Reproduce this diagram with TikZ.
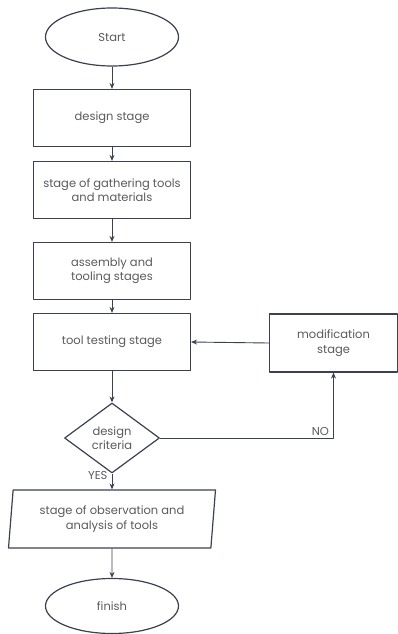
\documentclass[tikz,border=0pt]{standalone}
\usepackage{fontspec}
\setmainfont{Poppins}
\usetikzlibrary{shapes.geometric}
\usetikzlibrary{arrows.meta}

\definecolor{linecol}{HTML}{3B4052}
\definecolor{textcol}{HTML}{5A5A5E}

\begin{document}
\begin{tikzpicture}[
  x=1pt, y=-1pt,
  line join=round,
  >={Stealth[length=6pt,width=5pt]},
  flow/.style={->,draw=linecol,line width=0.9pt},
  every node/.style={draw=linecol, line width=1.2pt, text=textcol,
    align=center, font=\fontsize{11.5}{14.5}\selectfont},
  stagebox/.style={rectangle, minimum width=157pt, minimum height=57pt},
  terminal/.style={ellipse, minimum width=133pt, minimum height=58pt},
  decision/.style={diamond, aspect=1.36, inner sep=0pt,
    minimum width=95pt, minimum height=70pt},
  iobox/.style={trapezium, trapezium left angle=82, trapezium right angle=98,
    trapezium stretches body=true, minimum width=207pt, minimum height=58pt},
  tag/.style={draw=none, inner sep=2pt}
]

\useasboundingbox (0,0) rectangle (398,634);

% main column
\node[terminal] (start)    at (112,37)  {Start};
\node[stagebox] (design)   at (112,118) {design stage};
\node[stagebox] (gather)   at (112,190) {stage of gathering tools\\and materials};
\node[stagebox] (assembly) at (112,271) {assembly and\\tooling stages};
\node[stagebox] (testing)  at (112,342) {tool testing stage};
\node[decision] (criteria) at (112,438) {design\\criteria};
\node[iobox]    (observe)  at (112,519) {stage of observation and\\analysis of tools};
\node[terminal, minimum height=55pt] (finish) at (112,606) {finish};

% side branch
\node[stagebox, minimum width=128pt, minimum height=58pt] (modif) at (333.5,343) {modification\\stage};

\draw[flow] (start) -- (design);
\draw[flow] (design) -- (gather);
\draw[flow] (gather) -- (assembly);
\draw[flow] (assembly) -- (testing);
\draw[flow] (testing) -- (criteria);
\draw[flow] (criteria) -- node[tag, pos=0.1, left, xshift=-2pt] {YES} (observe);
\draw[flow] (criteria.east) -| node[tag, pos=0.5, above left, xshift=-2pt] {NO} (modif.south);
\draw[flow] (modif.west) -- (testing.east);
\draw[flow] (observe) -- (finish);

\end{tikzpicture}
\end{document}
